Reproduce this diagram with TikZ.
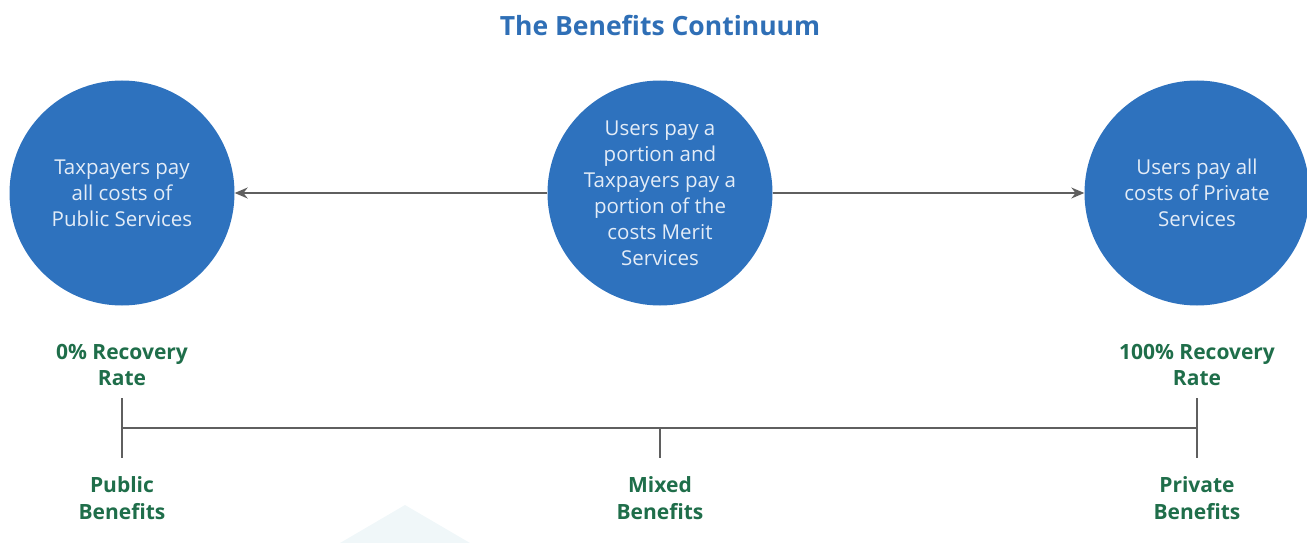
\documentclass[tikz,border=0pt]{standalone}
\usepackage{fontspec}
\setmainfont{Open Sans}
\usetikzlibrary{arrows.meta}
\definecolor{circblue}{HTML}{2E72BE}
\definecolor{titleblue}{HTML}{2F6FB6}
\definecolor{lblgreen}{HTML}{1F6E4A}
\definecolor{linegray}{HTML}{5F5F5F}
\definecolor{circtext}{HTML}{E3ECF7}
\definecolor{wmark}{HTML}{F0F7F9}
\tikzset{
  bubble/.style={circle, fill=circblue, draw=none, minimum size=225pt, inner sep=0pt},
  btext/.style={text=circtext, align=center, font=\fontsize{20.5}{26}\selectfont, inner sep=0pt},
  glabel/.style={text=lblgreen, align=center, font=\bfseries\fontsize{21}{26.5}\selectfont, inner sep=0pt},
  conn/.style={draw=linegray, line width=1.5pt, -{Stealth[length=13pt,width=11pt]}},
  tick/.style={draw=linegray, line width=1.5pt},
}
\begin{document}
\begin{tikzpicture}[x=1pt,y=-1pt]
\useasboundingbox (0,0) rectangle (1307,543);
\fill[wmark] (340,543) -- (405,505) -- (470,543) -- cycle;
\node[text=titleblue, font=\bfseries\fontsize{26.5}{30}\selectfont] (title) at (660,25) {The Benefits Continuum};
\node[bubble] (left) at (122,193) {};
\node[bubble] (mid) at (660,193) {};
\node[bubble] (right) at (1197,193) {};
\node[btext] (lefttext) at (left.center) {Taxpayers pay\\all costs of\\Public Services};
\node[btext] (midtext) at (mid.center) {Users pay a\\portion and\\Taxpayers pay a\\portion of the\\costs Merit\\Services};
\node[btext] (righttext) at (right.center) {Users pay all\\costs of Private\\Services};
\draw[conn] (mid.west) -- (left.east);
\draw[conn] (mid.east) -- (right.west);
\node[glabel] (zero) at (122,365) {0\% Recovery\\Rate};
\node[glabel] (hundred) at (1197,365) {100\% Recovery\\Rate};
\coordinate (lt) at (122,398);
\coordinate (lb) at (122,458);
\coordinate (lm) at (122,428);
\coordinate (mm) at (660,428);
\coordinate (mb) at (660,458);
\coordinate (rt) at (1197,398);
\coordinate (rb) at (1197,458);
\coordinate (rm) at (1197,428);
\draw[tick] (lt) -- (lb);
\draw[tick] (rt) -- (rb);
\draw[tick] (mm) -- (mb);
\draw[tick] (lm) -- (rm);
\node[glabel] (pub) at (122,498) {Public\\Benefits};
\node[glabel] (mix) at (660,498) {Mixed\\Benefits};
\node[glabel] (priv) at (1197,498) {Private\\Benefits};
\end{tikzpicture}
\end{document}
